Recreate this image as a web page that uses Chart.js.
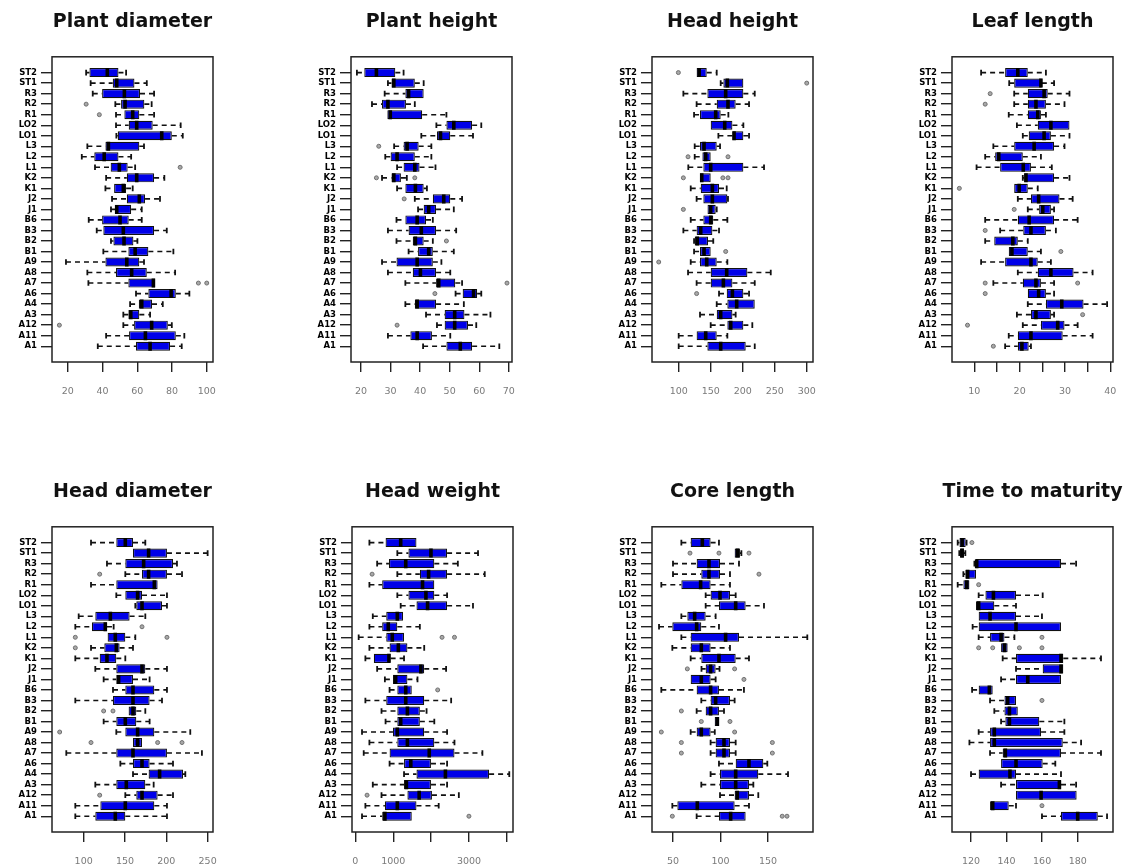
<!DOCTYPE html>
<html>
<head>
<meta charset="utf-8">
<script src="https://cdn.jsdelivr.net/npm/chart.js@4/dist/chart.umd.min.js"></script>
<style>
  html, body { margin: 0; padding: 0; background: #fff; overflow: hidden; width: 1128px; height: 867px; }
  canvas { position: absolute; }
</style>
</head>
<body>
<canvas id="c1" width="265" height="410" style="left:0px;top:0px"></canvas>
<canvas id="c2" width="265" height="410" style="left:299px;top:0px"></canvas>
<canvas id="c3" width="265" height="410" style="left:600px;top:0px"></canvas>
<canvas id="c4" width="265" height="410" style="left:900px;top:0px"></canvas>
<canvas id="c5" width="265" height="410" style="left:0px;top:470px"></canvas>
<canvas id="c6" width="265" height="410" style="left:300px;top:470px"></canvas>
<canvas id="c7" width="265" height="410" style="left:600px;top:470px"></canvas>
<canvas id="c8" width="265" height="410" style="left:900px;top:470px"></canvas>
<script>
// Categories, top to bottom
const categories = ['ST2','ST1','R3','R2','R1','LO2','LO1','L3','L2','L1','K2','K1','J2','J1','B6','B3','B2','B1','A9','A8','A7','A6','A4','A3','A12','A11','A1'];

// Each row: [lower whisker, Q1, median, Q3, upper whisker]
const plantDiameter = [
  [30.6,32.5,42.8,49.2,53.6],[33.2,45.9,48.2,58.4,65.5],[34.4,39.8,52.6,61.6,69.7],[47.4,50.7,53,64.1,68.3],
  [47.8,52.6,57.4,61.2,69.7],[47.8,55.1,59.7,68.9,85],[48,48.8,74.1,79.9,86.2],[31.3,41.7,43.4,61.2,63.9],
  [28.1,35.3,41,49.2,56.5],[35.7,44.7,49.7,54.5,58.8],[42.1,54,59.7,69.7,75.6],[41.7,46.7,52,53.6,57.4],
  [45.5,54,61.2,64.5,73.1],[44.9,47.2,48.2,56.5,62.6],[32.1,39.8,50.1,55.1,62.6],[36.7,40.5,52,69.7,77],
  [44.9,46.3,52.4,57.8,60.1],[40.5,54.9,58.8,66.4,80.8],[19,41.7,54,61.2,63.9],[31.3,47.8,56.8,65.5,81.8],
  [31.9,54.9,69.3,70.3,70.3],[59.3,66.4,79.5,82.2,90],[55.9,60.9,62.6,68.5,74.7],[52,54.9,56.3,61.2,67.4],
  [52,58.2,68.3,77.6,79.9],[42.1,55.3,64.7,82.2,87.1],[37.3,59.3,67.4,78.9,85.6]
];
const plantDiameterOutliers = [['R2',30.6],['R1',38.2],['L1',84.7],['A7',95.2],['A7',100],['A12',15.2]];

const plantHeight = [
  [18.6,21.1,25.2,31.6,34.4],[29.1,30.3,31.1,38.2,41.2],[28,35,36.1,41.2,41.2],[23.7,27.1,29.1,35.2,38.2],
  [28.9,28.9,29.9,40.7,48.9],[45.5,48.9,51.4,57.6,60.7],[40.4,45.7,46.9,50.2,57.9],[31.2,34.4,35.6,39.5,43.8],
  [28.2,30,32.2,38.2,43.8],[32.2,34.4,38.2,39.8,45.2],[27.1,30.3,31.1,33.5,35.5],[32.2,35,38.4,41.2,42.3],
  [38.2,44.3,48,50.2,54.2],[39.3,41.2,42.9,45.4,51.4],[32,35,39,42,44.3],[29.1,36.1,40.4,45.4,52.2],
  [32,37.5,38.4,41.2,44.3],[36.1,39.3,42.9,44.3,51.4],[27.1,32,39,44.3,47.2],[29.1,37.5,40.1,45.4,50.2],
  [35,45.4,46.3,51.9,54.2],[52,54.4,58.1,59.3,60.7],[35,38.2,39,45.4,54.8],[42,48.3,51.7,55,63.8],
  [45.7,48.3,51.7,56.2,59],[29.1,36.7,39,44,50.2],[41,48.9,53.6,57.6,66.8]
];
const plantHeightOutliers = [['L3',26],['K2',25.2],['K2',38.2],['J2',34.6],['B2',48.9],['A7',69.4],['A6',45],['A12',32.2]];

const headHeight = [
  [128,128,132,143.8,159.4],[165.6,169.8,176,201,201],[107.3,144.8,173.4,201,218.8],[128,159.4,177,189,209.9],
  [124,133.3,157.8,165.6,177.6],[150,150,171.9,183.9,201],[162,183.9,186.5,201,209.9],[125,133.3,139.6,159.4,164.6],
  [125,137,142.2,150,150],[115,138.5,150,201,233.3],[133.3,133.3,136,150,150],[118.8,134.4,152.6,163,175],
  [128,138.5,152.6,176,177],[145,145,150,157.8,159.4],[118.8,138.5,150,154,176],[107.3,128,134.4,152.6,163],
  [124,125,129,145.8,154],[124,133.3,139.6,150,150],[118.8,133.3,143.8,159.4,176],[114.6,150,175,207.3,243.8],
  [128,150,169.8,183.9,218.8],[163,175,183.9,201,209.9],[159.4,176,190.6,218.8,218.8],[133.3,159.4,165.6,183.9,189],
  [150,176,181.3,201,215],[100,128,142.2,159.4,176],[100,144.8,165.6,204.7,218.8]
];
const headHeightOutliers = [['ST2',99.5],['ST1',300],['L2',114.6],['L2',177],['K2',107.3],['K2',169],['K2',177],['J1',107.3],['B1',173.4],['A9',68.8],['A6',128]];

const leafLength = [
  [11.5,16.8,19.6,21.8,25.8],[17.7,18.8,24.7,24.9,27.6],[18.8,21.8,25.4,26.2,31],[18.8,21.8,23.6,25.8,29.9],
  [17.6,21.8,24,24.7,25.8],[19.4,24,26.9,31,31],[20.7,22,25.4,26.9,31],[14.2,18.8,23.2,27.6,29.9],
  [12.4,14.6,15.4,20.7,24.7],[10.5,15.7,20.8,22.5,27.1],[20.7,21,21.4,27.6,31],[18.8,18.8,19.9,21.8,24],
  [19.6,22.5,24.2,28.8,31.7],[21.8,24.3,25.1,26.9,27.6],[12.4,19.6,22.1,27.6,32.8],[15.7,20.8,22.5,25.8,28],
  [12.4,14.4,18.5,19.6,21.8],[17.6,17.6,18.3,21.8,24.7],[11.5,16.8,22.5,24,26.9],[19.6,24,26.9,31.9,36.1],
  [14.2,20.7,23.6,24.7,27.6],[21.8,21.8,24.2,25.8,27.6],[21.8,25.8,29.3,34.1,39.3],[19.4,22.5,23.6,26.9,27.6],
  [20.7,24.7,28.4,29.9,32.8],[17.6,19.6,22.5,29.5,36.1],[16.8,19.6,20.5,22,22.5]
];
const leafLengthOutliers = [['R3',13.5],['R2',12.4],['K1',6.7],['J1',18.8],['B3',12.4],['B1',29.1],['A7',12.4],['A7',32.8],['A6',12.4],['A3',33.9],['A12',8.5],['A1',14.2]];

const headDiameter = [
  [108.9,139.5,150.4,159.7,174.6],[159.7,159.7,178.6,200.8,250],[128.2,150.4,172.6,208.1,212.9],[150.4,170.6,178.6,200.8,219],
  [108.9,139.5,185.5,189.5,189.5],[139.5,150.4,165.3,170.6,200.8],[162.5,163.7,170.6,194.8,200.8],[94,114.1,132.3,155.6,174.6],
  [89.9,110,126.2,128.2,136.3],[129,129,138.3,150.4,162.5],[108.9,125,139.5,143.5,159.7],[89.9,119.4,128.2,139.5,150.4],
  [114.1,139.5,170.6,174.6,200.8],[124.2,139.5,142.3,159.7,179.8],[135.5,150.4,159.7,185.5,200.8],[89.9,135.5,159.7,179.8,194.8],
  [154.4,154.4,159.7,163.7,174.6],[124.2,139.5,150.4,163.7,179.8],[139.5,150.4,165.3,185.5,229],[159.7,159.7,165.3,170.6,170.6],
  [79,139.5,159.7,200.8,243.1],[144.4,159.7,170.6,179.8,208.1],[159.7,178.6,191.9,220.2,223],[114.1,139.5,151.6,174.6,184.7],
  [150.4,163.7,170.6,189.5,208.1],[89.9,120.2,150.4,185.5,200.8],[89.9,114.1,138.3,150.4,200.8]
];
const headDiameterOutliers = [['R2',119.4],['L2',170.6],['L1',89.9],['L1',200.8],['K2',89.9],['B2',124.2],['B2',135.5],['A9',71],['A8',108.9],['A8',189.5],['A8',219],['A12',119.4]];

const headWeight = [
  [372,798,1197,1613,1613],[1108,1401,1995,2420,3236],[576,887,1330,2083,2704],[1108,1702,1933,2420,3413],
  [372,709,1773,2083,2083],[1108,1401,1862,2083,2420],[1197,1613,1906,2420,3103],[461,816,1108,1259,1259],
  [372,709,869,1108,1702],[89,816,975,1285,1285],[372,904,1135,1374,1817],[266,488,887,931,1285],
  [576,1108,1729,1817,2394],[780,993,1064,1374,1640],[904,1108,1330,1489,1489],[266,816,1330,1817,2527],
  [691,1108,1374,1702,1879],[798,1108,1197,1702,2083],[177,993,1108,1817,2420],[372,1108,1374,2083,2615],
  [222,904,1950,2615,3351],[904,1285,1463,1995,2420],[1285,1613,2376,3528,4060],[461,1285,1347,1995,2420],
  [691,1374,1684,2021,2730],[266,780,1108,1613,2199],[177,709,780,1489,1489]
];
const headWeightOutliers = [['R2',443],['L1',2287],['L1',2615],['B6',2172],['A12',310],['A1',2996]];

const coreLength = [
  [58.8,68.6,80.9,89.6,98.4],[114.9,114.9,118,120.5,122],[50,74.9,87.9,99.5,119.5],[50,79.8,87.9,99.5,110],
  [37.7,58.8,79.1,89.6,110],[84.4,89.6,99.5,110,116],[84.4,98.4,116,126.5,145.8],[58.8,65.1,72.8,84.4,94.9],
  [35.3,49.3,74.9,79.8,98.4],[58.8,68.6,105.4,119.5,191.4],[49.3,68.6,79.8,89.6,110],[68.6,79.8,98.4,116,130],
  [80,84.4,89.6,94.9,99],[68.6,68.6,79.8,89.6,94.9],[37.7,74.9,89.6,98.4,124.7],[79.8,89.6,94.9,110,114.9],
  [74.9,84.4,89.6,98.4,103.7],[93.9,93.9,96.7,98.4,98.4],[68.6,74.9,79.8,89.6,94],[89.6,94.9,103.7,110,116],
  [89.6,94.9,103.7,110,116],[98.4,116,130,145.1,149.3],[89.6,99.5,116,139.8,171.1],[79.8,99.5,116,130,134.6],
  [99.5,114.9,117.7,130,139.8],[49.3,54.6,75.6,114.9,130],[74.9,98.4,110.7,126.5,126.5]
];
const coreLengthOutliers = [['ST1',67.9],['ST1',98.4],['ST1',130],['R2',140.5],['J2',65.1],['J2',114.9],['J1',124.7],['B2',58.8],['B1',79.8],['B1',110],['A9',37.7],['A9',114.9],['A8',58.8],['A8',154.6],['A7',58.8],['A7',154.6],['A1',49.3],['A1',165],['A1',170]];

const timeToMaturity = [
  [112.5,113.5,115,117,117.5],[113.4,113.8,115,116,116.8],[121.9,122.8,123.2,170.6,179.1],[115.7,116.8,118.1,122.8,122.8],
  [112.5,115.7,117.6,119.1,119.1],[124.3,128.1,132.6,145.3,160.3],[122.8,122.8,124.3,133.1,145.3],[124.3,124.3,130.7,145.3,159.9],
  [120.9,124.3,145.3,170.6,170.6],[124.3,130.7,136.9,138.8,144.4],[136.9,136.9,138.8,140.6,140.6],[137.8,145.3,170.6,171.9,193.1],
  [145.3,160.3,170.6,171.9,171.9],[136.9,145.3,151.9,170.6,170.6],[120.6,124.3,130.3,132.2,132.2],[130.7,138.8,140.6,145.3,145.3],
  [133.1,138.8,141.6,146.3,146.3],[136.9,139.3,141.6,158.4,172.5],[124.3,130.7,133.1,159.4,172.5],[119.1,130.7,133.1,171.6,181.9],
  [130.7,137.8,139.3,170.6,193.1],[136.9,136.9,145.3,160.3,167.4],[120,124.3,141.9,145.3,170.6],[136.9,145.3,169.7,170.6,179.1],
  [145.3,145.3,159.4,179.4,179.4],[130.7,130.7,132.2,141.2,145.3],[159.9,170.6,180,191.3,196.5]
];
const timeToMaturityOutliers = [['ST2',120.5],['R1',124.3],['L1',159.9],['K2',124.3],['K2',132.2],['K2',147.2],['K2',159.9],['B3',159.9],['A11',159.9]];

// Axis ticks
const plantDiameterTicks = [20,40,60,80,100];
const plantHeightTicks = [20,30,40,50,60,70];
const headHeightTicks = [100,150,200,250,300];
const leafLengthTicks = [10,15,20,25,30,35,40];
const leafLengthLabels = [10,20,30,40];
const headDiameterTicks = [100,150,200,250];
const headWeightTicks = [0,1000,2000,3000,4000];
const headWeightLabels = [0,1000,3000];
const coreLengthTicks = [50,100,150];
const timeToMaturityTicks = [120,140,160,180];

Chart.defaults.font.family = "'DejaVu Sans', 'Liberation Sans', sans-serif";

const framePlugin = {
  id: 'frame',
  afterDatasetsDraw(chart) {
    const a = chart.chartArea, ctx = chart.ctx;
    ctx.save();
    ctx.strokeStyle = '#222';
    ctx.lineWidth = 1.5;
    ctx.strokeRect(a.left, a.top, a.right - a.left, a.bottom - a.top);
    ctx.restore();
  }
};

function makePanel(id, title, rows, outliers, xmin, xmax, ticks, labels) {
  const whiskers = [], caps = [], boxes = [], medians = [];
  rows.forEach((r, i) => {
    const [lo, q1, med, q3, hi] = r;
    if (lo < q1) { whiskers.push({x: lo, y: i}, {x: q1, y: i}, {x: null, y: i}); caps.push({x: lo, y: i}); }
    if (hi > q3) { whiskers.push({x: q3, y: i}, {x: hi, y: i}, {x: null, y: i}); caps.push({x: hi, y: i}); }
    boxes.push({x: [q1, q3], y: i});
    medians.push({x: med, y: i});
  });
  const outPts = outliers.map(o => ({x: o[1], y: categories.indexOf(o[0])}));
  const shown = labels || ticks;

  new Chart(document.getElementById(id), {
    type: 'bar',
    data: {
      datasets: [
        { type: 'line', data: whiskers, order: 4, borderColor: '#111', borderWidth: 1.6, borderDash: [5, 4],
          pointRadius: 0, fill: false, tension: 0, spanGaps: false },
        { type: 'scatter', data: caps, order: 3, pointStyle: 'line', pointRotation: 90, pointRadius: 2.8,
          pointBorderWidth: 1.8, pointBorderColor: '#111', borderColor: '#111' },
        { type: 'bar', data: boxes, order: 2, backgroundColor: '#0000e8', borderColor: '#111', borderWidth: 1.2,
          borderSkipped: false, barPercentage: 0.86, categoryPercentage: 1 },
        { type: 'scatter', data: medians, order: 1, pointStyle: 'line', pointRotation: 90, pointRadius: 4.5,
          pointBorderWidth: 3.6, pointBorderColor: '#000', borderColor: '#000' },
        { type: 'scatter', data: outPts, order: 0, pointStyle: 'circle', pointRadius: 2,
          pointBackgroundColor: '#a8a8a8', pointBorderColor: '#707070', pointBorderWidth: 1 }
      ]
    },
    options: {
      indexAxis: 'y',
      responsive: false,
      animation: false,
      events: [],
      layout: { padding: 0 },
      plugins: {
        legend: { display: false },
        tooltip: { enabled: false },
        title: { display: true, text: title, color: '#111',
                 font: { size: 19, weight: 'bold' }, padding: { top: 11, bottom: 23 } }
      },
      scales: {
        x: {
          type: 'linear', min: xmin, max: xmax, offset: false,
          afterBuildTicks: s => { s.ticks = ticks.map(v => ({ value: v })); },
          afterFit: s => { s.height = 48; },
          ticks: { autoSkip: false, maxRotation: 0, color: '#7a7a7a', padding: 14, font: { size: 9.5 },
                   callback: v => shown.includes(v) ? String(v) : '' },
          grid: { drawOnChartArea: false, drawTicks: true, tickLength: 10, color: '#222', lineWidth: 1.4, offset: false },
          border: { display: false }
        },
        y: {
          type: 'linear', min: -1.5, max: 27.5, reverse: true, offset: false,
          afterBuildTicks: s => { s.ticks = categories.map((c, i) => ({ value: i })); },
          afterFit: s => { s.width = 52; },
          ticks: { autoSkip: false, color: '#000', padding: 4, font: { size: 8.5, weight: 'bold' },
                   callback: v => categories[v] },
          grid: { drawOnChartArea: false, drawTicks: true, tickLength: 11, color: '#222', lineWidth: 1.4, offset: false },
          border: { display: false }
        },
        yRight: {
          type: 'linear', position: 'right', display: true, offset: false,
          afterFit: s => { s.width = 52; },
          ticks: { display: false },
          grid: { display: false, drawTicks: false },
          border: { display: false }
        }
      }
    },
    plugins: [framePlugin]
  });
}

makePanel('c1', 'Plant diameter', plantDiameter, plantDiameterOutliers, 10.96, 103.6, plantDiameterTicks);
makePanel('c2', 'Plant height', plantHeight, plantHeightOutliers, 16.6, 71.1, plantHeightTicks);
makePanel('c3', 'Head height', headHeight, headHeightOutliers, 58.3, 309.8, headHeightTicks);
makePanel('c4', 'Leaf length', leafLength, leafLengthOutliers, 5.08, 40.6, leafLengthTicks, leafLengthLabels);
makePanel('c5', 'Head diameter', headDiameter, headDiameterOutliers, 61.7, 256.5, headDiameterTicks);
makePanel('c6', 'Head weight', headWeight, headWeightOutliers, -87, 4158, headWeightTicks, headWeightLabels);
makePanel('c7', 'Core length', coreLength, coreLengthOutliers, 27.9, 197.4, coreLengthTicks);
makePanel('c8', 'Time to maturity', timeToMaturity, timeToMaturityOutliers, 109.3, 199.85, timeToMaturityTicks);
</script>
</body>
</html>
